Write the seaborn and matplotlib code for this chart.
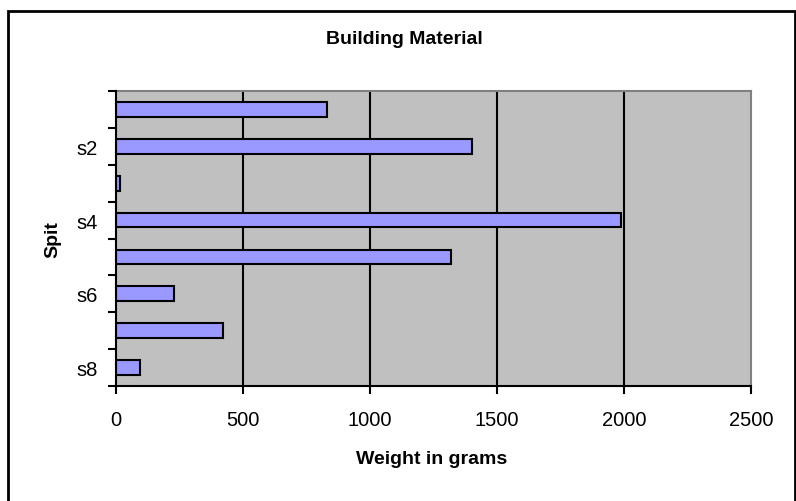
import matplotlib
matplotlib.use("Agg")
import matplotlib.pyplot as plt
import matplotlib.patches as mpatches
from matplotlib.ticker import FixedLocator
import seaborn as sns
import pandas as pd

# Spit categories and weights of building material (grams)
spits = ["s1", "s2", "s3", "s4", "s5", "s6", "s7", "s8"]
weights = [830, 1400, 15, 1990, 1320, 230, 420, 95]
x_ticks = [0, 500, 1000, 1500, 2000, 2500]

title = "Building Material"
x_label = "Weight in grams"
y_label = "Spit"

sns.set_theme(style="white")
plt.rcParams["font.family"] = ["Liberation Sans", "DejaVu Sans"]
plt.rcParams["text.color"] = "black"
plt.rcParams["axes.labelcolor"] = "black"
plt.rcParams["xtick.color"] = "black"
plt.rcParams["ytick.color"] = "black"

df = pd.DataFrame({"Spit": spits, "Weight": weights})

fig = plt.figure(figsize=(7.96, 5.02), dpi=100)
W, H = 796, 502
L, R, T, B = 116, 751, 92, 387
ax = fig.add_axes([L / W, (H - B) / H, (R - L) / W, (B - T) / H])
ax.set_facecolor("#C0C0C0")

sns.barplot(data=df, x="Weight", y="Spit", orient="h", color="#9999FF",
            edgecolor="black", linewidth=1.5, width=0.4, saturation=1,
            ax=ax, zorder=3)

ax.set_xlim(x_ticks[0], x_ticks[-1])
ax.set_ylim(len(spits) - 0.5, -0.5)

# vertical gridlines
ax.set_xticks(x_ticks)
ax.set_xticklabels([str(t) for t in x_ticks], fontsize=14.5)
for t in x_ticks[1:-1]:
    ax.axvline(t, color="black", linewidth=1.5, zorder=1)

# category labels on every other spit; tick marks between categories
ax.set_yticks(range(len(spits)))
ax.set_yticklabels([s if i % 2 == 1 else "" for i, s in enumerate(spits)], fontsize=14.5)
ax.yaxis.set_minor_locator(FixedLocator([i - 0.5 for i in range(len(spits) + 1)]))
ax.tick_params(axis="y", which="major", length=0, pad=13)
ax.tick_params(axis="y", which="minor", left=True, length=6, width=1.5, color="black")
ax.tick_params(axis="x", which="major", bottom=True, length=6, width=1.5,
               color="black", pad=11)

for side in ["left", "bottom"]:
    ax.spines[side].set_color("black")
    ax.spines[side].set_linewidth(1.5)
for side in ["top", "right"]:
    ax.spines[side].set_color("#808080")
    ax.spines[side].set_linewidth(1.5)
ax.spines["left"].set_zorder(5)
ax.spines["bottom"].set_zorder(5)

ax.set_xlabel(x_label, fontsize=14, fontweight="bold")
ax.set_ylabel(y_label, fontsize=14, fontweight="bold")
ax.xaxis.set_label_coords((432 - L) / (R - L), -(451 - B) / (B - T))
ax.yaxis.set_label_coords(-(L - 61) / (R - L), (B - 240) / (B - T))

fig.text(404 / W, 1 - 39 / H, title, ha="center", va="center",
         fontsize=14, fontweight="bold")

# chart area border
fig.patches.append(mpatches.Rectangle((8 / W, -0.05), (795 - 8) / W, (H - 12) / H + 0.05,
                                      transform=fig.transFigure, fill=False,
                                      edgecolor="black", linewidth=2))

fig.savefig("out.png", dpi=100, facecolor="white")
